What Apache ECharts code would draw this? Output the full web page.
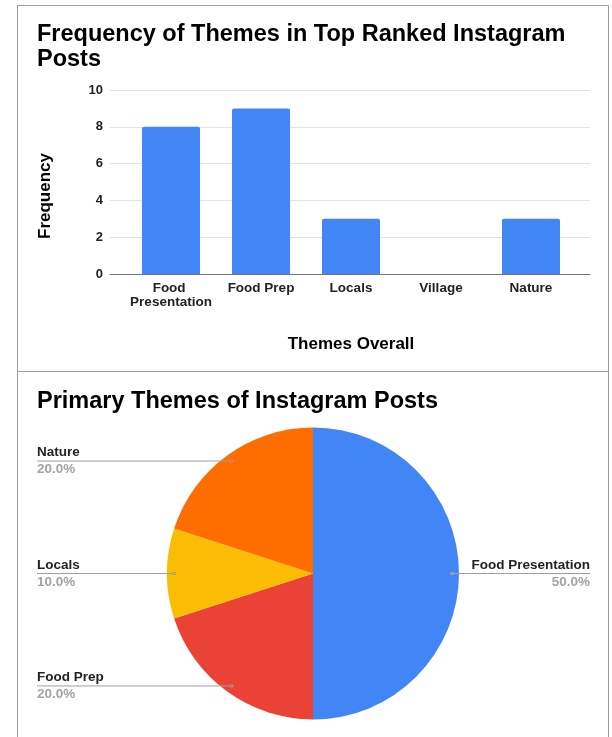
<!DOCTYPE html>
<html>
<head>
<meta charset="utf-8">
<script src="https://cdn.jsdelivr.net/npm/echarts@6/dist/echarts.min.js"></script>
<style>
html, body { margin: 0; padding: 0; background: #fff; }
#wrap { position: relative; width: 612px; height: 737px; overflow: hidden; }
#chart { position: absolute; left: 0; top: 0; width: 612px; height: 737px; }
.frame { position: absolute; border: 1px solid #9e9e9e; pointer-events: none; box-sizing: border-box; }
</style>
</head>
<body>
<div id="wrap">
  <div id="chart"></div>
  <div class="frame" style="left:17px;top:5px;width:592px;height:367px;"></div>
  <div class="frame" style="left:17px;top:371px;width:592px;height:400px;border-top:none;"></div>
</div>
<script>
// ---- data ----
const barTitle = 'Frequency of Themes in Top Ranked Instagram\nPosts';
const pieTitle = 'Primary Themes of Instagram Posts';
const categories = ['Food Presentation', 'Food Prep', 'Locals', 'Village', 'Nature'];
const frequency = [8, 9, 3, 0, 3];
const yMin = 0, yMax = 10, yStep = 2;
const xAxisTitle = 'Themes Overall';
const yAxisTitle = 'Frequency';
const pieNames = ['Food Presentation', 'Food Prep', 'Locals', 'Village', 'Nature'];
const pieValues = [5, 2, 1, 0, 2];
const pieColors = ['#4285F4', '#EA4335', '#FBBC04', '#34A853', '#FF6D01'];
const barColor = '#4285F4';

// ---- chart ----
const FONT = '"Liberation Sans", Arial, Helvetica, sans-serif';
const chart = echarts.init(document.getElementById('chart'), null, { renderer: 'canvas' });

const pieCenter = [313, 573.5];

const pieData = pieNames.map((n, i) => ({
  name: n, value: pieValues[i],
  itemStyle: { color: pieColors[i] }
}));
const labelData = pieNames.map((n, i) => {
  const d = { name: n, value: pieValues[i], itemStyle: { color: 'rgba(0,0,0,0)' } };
  if (pieValues[i] === 0) { d.label = { show: false }; d.labelLine = { show: false }; }
  return d;
});

const option = {
  animation: false,
  backgroundColor: '#fff',
  textStyle: { fontFamily: FONT },
  title: [
    { text: barTitle, left: 37, top: 22.5, padding: 0,
      textStyle: { fontFamily: FONT, fontSize: 23.5, fontWeight: 'bold', color: '#000', lineHeight: 24.5 } },
    { text: pieTitle, left: 37, top: 389, padding: 0,
      textStyle: { fontFamily: FONT, fontSize: 23.5, fontWeight: 'bold', color: '#000', lineHeight: 24.5 } }
  ],
  grid: [
    { left: 110, right: 22, top: 90, bottom: 463, containLabel: false, outerBoundsMode: 'none' },
    { left: 126, right: 36, top: 90, bottom: 463, containLabel: false, outerBoundsMode: 'none' }
  ],
  xAxis: [
    { gridIndex: 0, type: 'value', min: 0, max: 1,
      axisLine: { show: true, onZero: false, lineStyle: { color: '#757575', width: 1 } },
      axisTick: { show: false }, axisLabel: { show: false }, splitLine: { show: false } },
    { gridIndex: 1, type: 'category', data: categories,
      axisLine: { show: false }, axisTick: { show: false },
      axisLabel: { interval: 0, margin: 7, fontFamily: FONT, fontSize: 13.5, fontWeight: 'bold', color: '#222',
        lineHeight: 14, width: 88, overflow: 'break' },
      name: xAxisTitle, nameLocation: 'middle', nameGap: 61.5,
      nameTextStyle: { fontFamily: FONT, fontSize: 17, fontWeight: 'bold', color: '#000', lineHeight: 17 } }
  ],
  yAxis: [
    { gridIndex: 0, type: 'value', min: yMin, max: yMax, interval: yStep,
      axisLine: { show: false }, axisTick: { show: false },
      axisLabel: { margin: 7, fontFamily: FONT, fontSize: 13, fontWeight: 'bold', color: '#222' },
      splitLine: { show: true, lineStyle: { color: '#e3e3e3', width: 1 } },
      name: yAxisTitle, nameLocation: 'middle', nameRotate: 90, nameGap: 56,
      nameTextStyle: { fontFamily: FONT, fontSize: 17, fontWeight: 'bold', color: '#000', padding: [0, 28, 0, 0] } },
    { gridIndex: 1, type: 'value', min: yMin, max: yMax, interval: yStep, show: false,
      splitLine: { show: false } }
  ],
  series: [
    { type: 'bar', xAxisIndex: 1, yAxisIndex: 1, data: frequency, barWidth: 58,
      itemStyle: { color: barColor, borderRadius: [2, 2, 0, 0] }, silent: true },
    { type: 'pie', center: pieCenter, radius: 146, startAngle: 90, clockwise: true, z: 2,
      data: pieData, silent: true, label: { show: false }, labelLine: { show: false },
      itemStyle: { borderWidth: 0 }, emphasis: { disabled: true } },
    { type: 'pie', center: pieCenter, radius: 139, startAngle: 90, clockwise: true, z: 5,
      data: labelData, silent: true, avoidLabelOverlap: false, emphasis: { disabled: true },
      itemStyle: { borderWidth: 0 },
      label: {
        show: true, position: 'outside', textBorderWidth: 0,
        formatter: p => '{n|' + p.name + '}\n{p|' + p.percent.toFixed(1) + '%}',
        rich: {
          n: { fontFamily: FONT, fontSize: 13.5, fontWeight: 'bold', color: '#222', lineHeight: 17 },
          p: { fontFamily: FONT, fontSize: 13.5, fontWeight: 'bold', color: '#a3a3a3', lineHeight: 17 }
        }
      },
      labelLine: { show: true, length: 0, length2: 10, lineStyle: { color: '#9e9e9e', width: 1 } },
      labelLayout: function (params) {
        const pts = params.labelLinePoints;
        if (!pts || !pts.length) return {};
        const p0 = pts[0];
        const last = pts[pts.length - 1];
        const left = last[0] < p0[0];
        const edgeX = left ? 37 : 590;
        const x0 = p0[0], y0 = p0[1];
        return {
          x: edgeX, y: y0, align: left ? 'left' : 'right', verticalAlign: 'middle',
          labelLinePoints: [[x0 - 1.5, y0 - 1], [x0 + 1.5, y0 - 1], [x0 + 1.5, y0 + 1], [x0 - 1.5, y0 + 1], [x0 - 1.5, y0], [edgeX, y0]]
        };
      }
    }
  ]
};
chart.setOption(option);
</script>
</body>
</html>
